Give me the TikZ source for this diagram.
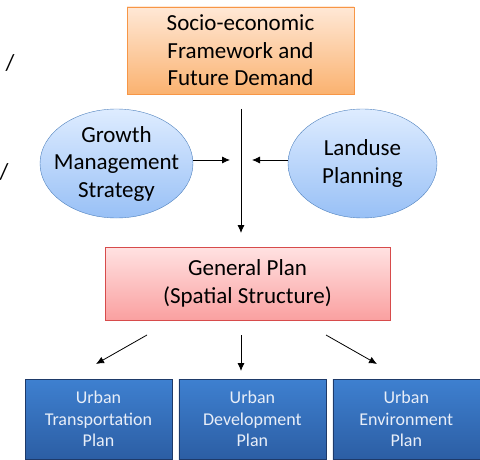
\documentclass[tikz,border=0pt]{standalone}
\usepackage{fontspec}
\setmainfont{Carlito}
\usetikzlibrary{positioning}
\usetikzlibrary{shapes.geometric}
\usetikzlibrary{arrows.meta}
\definecolor{orgtop}{RGB}{255,232,214}
\definecolor{orgbot}{RGB}{250,178,112}
\definecolor{orgline}{RGB}{247,150,70}
\definecolor{elltop}{RGB}{222,236,255}
\definecolor{ellbot}{RGB}{152,192,246}
\definecolor{ellline}{RGB}{79,129,189}
\definecolor{pnktop}{RGB}{255,226,226}
\definecolor{pnkbot}{RGB}{250,160,160}
\definecolor{pnkline}{RGB}{215,75,75}
\definecolor{bluetop}{RGB}{62,128,208}
\definecolor{bluebot}{RGB}{44,94,164}
\definecolor{blueline}{RGB}{30,58,105}
\definecolor{bluetext}{RGB}{232,238,248}
\newcommand{\bigtxt}{\fontsize{23}{27.5}\selectfont}
\newcommand{\smalltxt}{\fontsize{18}{21.7}\selectfont}
\tikzstyle{sebox}=[draw=orgline,top color=orgtop,bottom color=orgbot,minimum width=227pt,minimum height=87pt,align=center,font=\bigtxt]
\tikzstyle{ell}=[ellipse,draw=ellline,top color=elltop,bottom color=ellbot,minimum height=109pt,align=center,font=\bigtxt,inner ysep=0pt,inner xsep=-10pt]
\tikzstyle{gpbox}=[draw=pnkline,top color=pnktop,bottom color=pnkbot,minimum width=285pt,minimum height=73pt,align=center,font=\bigtxt]
\tikzstyle{upbox}=[draw=blueline,top color=bluetop,bottom color=bluebot,minimum width=147pt,minimum height=80pt,align=center,text=bluetext,font=\smalltxt,inner sep=0pt]
\tikzstyle{arr}=[-{Latex[length=8pt,width=7pt]},line width=0.8pt]

\begin{document}
\begin{tikzpicture}[x=1pt,y=-1pt]
  \useasboundingbox (0,0) rectangle (480,460);
  % stray marks at the left edge
  \node [font=\bigtxt] (slasha) at (10,63) {/};
  \node [font=\bigtxt,inner sep=0pt] (slashb) at (4,172) {/};
  % upper part
  \node [sebox] (socio) at (240.5,50.5) {Socio-economic\\Framework and\\Future Demand};
  \node [ell,minimum width=153pt] (growth) at (116.5,163.5) {Growth\\Management\\Strategy};
  \node [ell,minimum width=149pt] (landuse) at (362.5,163.5) {Landuse\\Planning};
  \coordinate (jtop) at (241,109);
  \coordinate (jbot) at (241,233);
  \coordinate (jl) at (230,160);
  \coordinate (jr) at (252,160);
  \draw [arr] (jtop) -- (jbot);
  \draw [arr] (growth.east |- jl) -- (jl);
  \draw [arr] (landuse.west |- jr) -- (jr);
  % general plan
  \node [gpbox] (general) at (247.5,283.5) {General Plan\\(Spatial Structure)};
  % plans
  \node [upbox] (trans) at (98.5,419) {Urban\\Transportation\\Plan};
  \node [upbox] (devel) [right=6.5pt of trans] {Urban\\Development\\Plan};
  \node [upbox] (envir) [right=6.5pt of devel] {Urban\\Environment\\Plan};
  \coordinate (ta) at (147,335);
  \coordinate (tb) at (96,364);
  \coordinate (da) at (241,335);
  \coordinate (db) at (241,371);
  \coordinate (ea) at (326,335);
  \coordinate (eb) at (377,364);
  \draw [arr] (ta) -- (tb);
  \draw [arr] (da) -- (db);
  \draw [arr] (ea) -- (eb);
\end{tikzpicture}
\end{document}
